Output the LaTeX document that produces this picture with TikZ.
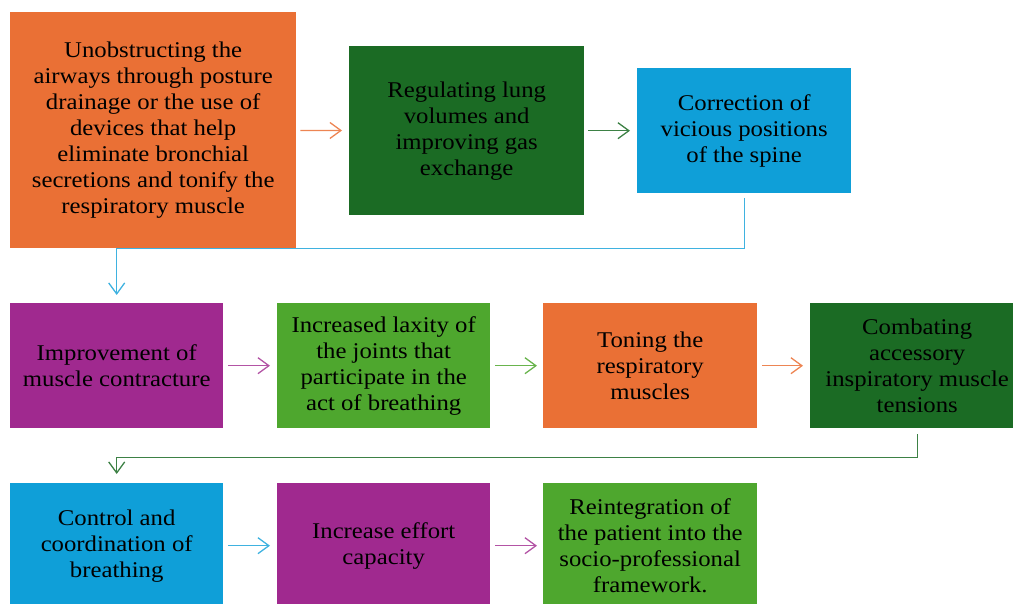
\documentclass[tikz,border=0pt]{standalone}
\usepackage{fontspec}
\setmainfont{Liberation Serif}[FakeStretch=1.1]
\usepackage{xcolor}
\usetikzlibrary{arrows.meta}
\definecolor{boxorange}{HTML}{EA7035}
\definecolor{boxdarkgreen}{HTML}{1B6B24}
\definecolor{boxblue}{HTML}{0F9FD8}
\definecolor{boxpurple}{HTML}{A0298F}
\definecolor{boxlightgreen}{HTML}{4EA72E}

\begin{document}
\begin{tikzpicture}[x=1pt,y=-1pt]
	\tikzset{box/.style={anchor=north west, inner sep=0pt, align=center, minimum height=125pt,
			font=\fontsize{22.5}{26}\selectfont}}
	\tikzset{link/.style={-{Straight Barb[length=11pt,width=16pt]}, line width=1.3pt}}
	\useasboundingbox (0,0) rectangle (1013,604);

	% first row
	\node[box, fill=boxorange, minimum width=286pt, minimum height=236pt] (unob) at (10,12)
		{Unobstructing the\\airways through posture\\drainage or the use of\\devices that help\\eliminate bronchial\\secretions and tonify the\\respiratory muscle};
	\node[box, fill=boxdarkgreen, minimum width=235pt, minimum height=169pt] (lung) at (349,46)
		{Regulating lung\\volumes and\\improving gas\\exchange};
	\node[box, fill=boxblue, minimum width=214pt] (spine) at (637,68)
		{Correction of\\vicious positions\\of the spine};

	% second row
	\node[box, fill=boxpurple, minimum width=213pt] (muscle) at (10,303)
		{Improvement of\\muscle contracture};
	\node[box, fill=boxlightgreen, minimum width=213pt] (laxity) at (277,303)
		{Increased laxity of\\the joints that\\participate in the\\act of breathing};
	\node[box, fill=boxorange, minimum width=214pt] (toning) at (543,303)
		{Toning the\\respiratory\\muscles};
	\node[box, fill=boxdarkgreen, minimum width=214pt] (tens) at (810,303)
		{Combating\\accessory\\inspiratory muscle\\tensions};

	% third row
	\node[box, fill=boxblue, minimum width=213pt] (control) at (10,483)
		{Control and\\coordination of\\breathing};
	\node[box, fill=boxpurple, minimum width=213pt] (effort) at (277,483)
		{Increase effort\\capacity};
	\node[box, fill=boxlightgreen, minimum width=214pt] (reint) at (543,483)
		{Reintegration of\\the patient into the\\socio-professional\\framework.};

	% connectors
	\draw[link, boxorange!85, shorten <=4pt, shorten >=7pt] (unob) -- (lung);
	\draw[link, boxdarkgreen!85, shorten <=4pt, shorten >=7pt] (lung) -- (spine);
	\draw[link, boxblue!80, shorten <=5pt, shorten >=8pt] (spine.south) -- ++(0,55) -| (muscle.north);

	\draw[link, boxpurple!80, shorten <=5pt, shorten >=7pt] (muscle) -- (laxity);
	\draw[link, boxlightgreen!85, shorten <=5pt, shorten >=6pt] (laxity) -- (toning);
	\draw[link, boxorange!85, shorten <=5pt, shorten >=7pt] (toning) -- (tens);
	\draw[link, boxdarkgreen!85, shorten <=6pt, shorten >=9pt] (tens.south) -- ++(0,29) -| (control.north);

	\draw[link, boxblue!80, shorten <=5pt, shorten >=7pt] (control) -- (effort);
	\draw[link, boxpurple!80, shorten <=5pt, shorten >=6pt] (effort) -- (reint);
\end{tikzpicture}
\end{document}
